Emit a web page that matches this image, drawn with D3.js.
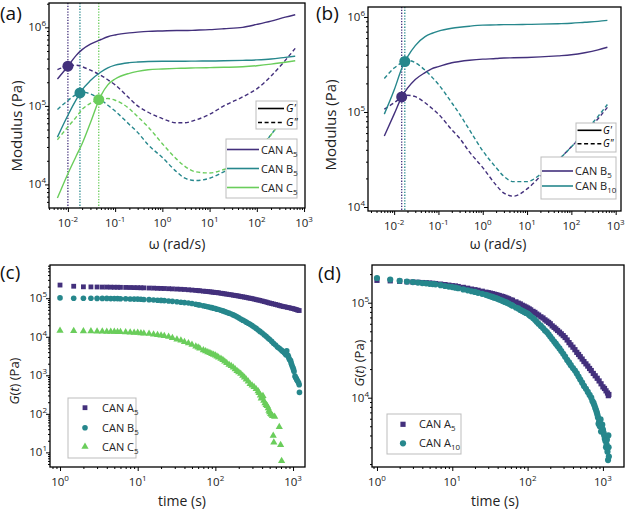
<!DOCTYPE html>
<html><head><meta charset="utf-8">
<script src="https://cdn.jsdelivr.net/npm/d3@7"></script>
<style>body{margin:0;background:#fff} svg{font-family:'Open Sans',sans-serif}</style>
</head><body><svg id="c" width="628" height="515"></svg>
<script>
// ---------- DATA ----------
const omega = [0.006,0.01,0.015,0.02,0.03,0.05,0.07,0.1,0.2,0.3,0.5,1,2,3,5,10,20,50,100,200,400,650];
// panel (a)
const aA5_G1 = [2.2e5,3.2e5,4.4e5,5.2e5,6.1e5,7.0e5,7.6e5,8.0e5,8.5e5,8.7e5,8.9e5,9.0e5,9.1e5,9.1e5,9.2e5,9.35e5,9.6e5,1.0e6,1.09e6,1.2e6,1.35e6,1.45e6];
const aA5_G2 = [2.9e5,3.2e5,3.3e5,3.15e5,2.85e5,2.45e5,2.15e5,1.85e5,1.25e5,1.0e5,8.3e4,6.9e4,6.1e4,6.1e4,6.6e4,7.8e4,1.0e5,1.3e5,1.65e5,2.4e5,3.8e5,5.4e5];
const aB5_G1 = [4.0e4,7.6e4,1.2e5,1.6e5,2.1e5,2.7e5,3.05e5,3.3e5,3.55e5,3.62e5,3.68e5,3.7e5,3.7e5,3.7e5,3.72e5,3.73e5,3.75e5,3.8e5,3.85e5,3.95e5,4.15e5,4.3e5];
const aB5_G2 = [9.0e4,1.17e5,1.4e5,1.5e5,1.42e5,1.2e5,1.02e5,8.6e4,5.8e4,4.6e4,3.2e4,2.2e4,1.45e4,1.2e4,1.12e4,1.2e4,1.45e4,1.95e4,2.6e4,4.3e4,7.5e4,1.1e5];
const aC5_G1 = [6.7e3,1.37e4,2.3e4,3.3e4,6.1e4,1.35e5,1.85e5,2.2e5,2.6e5,2.75e5,2.88e5,2.95e5,3.0e5,3.02e5,3.05e5,3.07e5,3.1e5,3.15e5,3.25e5,3.4e5,3.6e5,3.75e5];
const aC5_G2 = [3.7e4,5.4e4,7.2e4,9.0e4,1.08e5,1.22e5,1.24e5,1.18e5,9.2e4,7.3e4,5.4e4,3.3e4,2.1e4,1.7e4,1.45e4,1.4e4,1.55e4,2.0e4,2.7e4,4.3e4,7.5e4,1.1e5];
const aCross = [[0.01,3.2e5],[0.018,1.46e5],[0.045,1.2e5]];
// panel (b)
const bB5_G1 = [5.6e4,9.5e4,1.45e5,1.78e5,2.2e5,2.6e5,2.85e5,3.0e5,3.3e5,3.4e5,3.5e5,3.6e5,3.65e5,3.7e5,3.72e5,3.75e5,3.8e5,3.9e5,4.0e5,4.2e5,4.5e5,4.8e5];
const bB5_G2 = [1.07e5,1.25e5,1.43e5,1.5e5,1.45e5,1.25e5,1.1e5,9.5e4,6.5e4,5.3e4,3.8e4,2.6e4,1.7e4,1.4e4,1.3e4,1.55e4,2.1e4,3.1e4,4.3e4,6.0e4,8.5e4,1.12e5];
const bB10_G1 = [9.5e4,1.7e5,2.9e5,3.8e5,5.0e5,6.2e5,6.7e5,7.1e5,7.6e5,7.8e5,8.0e5,8.2e5,8.25e5,8.3e5,8.3e5,8.35e5,8.4e5,8.5e5,8.6e5,8.8e5,9.0e5,9.2e5];
const bB10_G2 = [2.25e5,2.9e5,3.3e5,3.5e5,3.3e5,2.75e5,2.35e5,1.95e5,1.25e5,9.5e4,6.5e4,3.9e4,2.6e4,2.1e4,1.85e4,1.85e4,2.2e4,3.1e4,4.3e4,6.2e4,9.0e4,1.2e5];
const bCross = [[0.0148,1.44e5],[0.0174,3.4e5]];
// panel (c): [time s, G(t) Pa]
const cA5 = [[1,2.2e5],[1.5,2.05e5],[2,1.98e5],[2.5,1.97e5],[3,1.96e5],[3.5,1.95e5],[4,1.95e5],[4.5,1.94e5],[5,1.93e5],[5.5,1.93e5],[6,1.92e5],[7,1.91e5],[8,1.9e5],[9,1.89e5],[10,1.88e5],[11,1.87e5],[12,1.86e5],[14,1.84e5],[16,1.83e5],[18,1.81e5],[20,1.8e5],[22,1.79e5],[25,1.77e5],[28,1.75e5],[32,1.73e5],[36,1.71e5],[40,1.69e5],[45,1.66e5],[50,1.63e5],[56,1.6e5],[60,1.58e5],[63,1.56e5],[70,1.53e5],[75,1.51e5],[80,1.49e5],[85,1.47e5],[90,1.45e5],[95,1.43e5],[100,1.41e5],[105,1.4e5],[110,1.38e5],[118,1.35e5],[125,1.33e5],[132,1.3e5],[140,1.28e5],[150,1.25e5],[160,1.23e5],[170,1.2e5],[180,1.18e5],[190,1.16e5],[200,1.14e5],[212,1.11e5],[225,1.09e5],[237,1.07e5],[250,1.05e5],[265,1.02e5],[280,1.0e5],[297,9.8e4],[315,9.5e4],[335,9.2e4],[355,9.0e4],[375,8.8e4],[400,8.5e4],[425,8.2e4],[450,8.0e4],[475,7.7e4],[500,7.5e4],[530,7.3e4],[560,7.1e4],[595,6.9e4],[630,6.7e4],[665,6.5e4],[700,6.3e4],[745,6.1e4],[790,6.0e4],[840,5.8e4],[890,5.7e4],[945,5.5e4],[1000,5.4e4],[1050,5.2e4],[1100,5.1e4],[1150,4.9e4],[1200,4.8e4]];
const cB5 = [[1,1.02e5],[1.5,1.0e5],[2,1.0e5],[2.5,1.0e5],[3,9.9e4],[3.5,9.9e4],[4,9.9e4],[4.5,9.8e4],[5,9.8e4],[5.5,9.8e4],[6,9.7e4],[7,9.7e4],[8,9.6e4],[9,9.5e4],[10,9.5e4],[11,9.4e4],[12,9.3e4],[14,9.2e4],[16,9.0e4],[18,8.9e4],[20,8.8e4],[22,8.7e4],[25,8.5e4],[28,8.3e4],[32,8.1e4],[36,7.9e4],[40,7.7e4],[45,7.5e4],[50,7.3e4],[56,7.0e4],[60,6.8e4],[63,6.7e4],[70,6.4e4],[75,6.2e4],[80,6.0e4],[85,5.8e4],[90,5.7e4],[95,5.5e4],[100,5.4e4],[105,5.2e4],[110,5.1e4],[118,4.9e4],[125,4.7e4],[132,4.5e4],[140,4.3e4],[150,4.1e4],[160,3.9e4],[170,3.7e4],[180,3.5e4],[190,3.3e4],[200,3.1e4],[212,2.9e4],[225,2.7e4],[237,2.55e4],[250,2.4e4],[265,2.25e4],[280,2.1e4],[297,1.95e4],[315,1.8e4],[335,1.65e4],[355,1.5e4],[375,1.38e4],[400,1.25e4],[425,1.13e4],[450,1.03e4],[475,9.3e3],[500,8.5e3],[530,7.6e3],[560,6.8e3],[595,6.1e3],[630,5.4e3],[665,5.0e3],[700,4.6e3],[725,4.3e3],[750,4.1e3],[770,3.9e3],[790,3.7e3],[810,3.4e3],[830,4.3e3],[860,3.3e3],[875,3.0e3],[890,2.7e3],[910,2.5e3],[930,2.4e3],[945,2.1e3],[960,1.9e3],[980,1.7e3],[1000,1.55e3],[1015,1.4e3],[1030,1.25e3],[1060,9.5e2],[1080,8.8e2],[1100,8.2e2],[1120,7.6e2],[1150,7.0e2],[1180,6.4e2],[1200,5.7e2],[1210,3.6e2]];
const cC5 = [[1,1.45e4],[1.5,1.42e4],[2,1.4e4],[2.5,1.4e4],[3,1.38e4],[3.5,1.37e4],[4,1.36e4],[4.5,1.35e4],[5,1.35e4],[5.5,1.34e4],[6,1.33e4],[7,1.32e4],[8,1.3e4],[9,1.28e4],[10,1.27e4],[11,1.25e4],[12,1.23e4],[14,1.2e4],[16,1.16e4],[18,1.12e4],[20,1.09e4],[22,1.05e4],[25,1.0e4],[28,9.4e3],[32,8.6e3],[36,8.0e3],[40,7.4e3],[45,6.8e3],[50,6.2e3],[56,5.6e3],[60,5.3e3],[63,5.0e3],[70,4.5e3],[75,4.25e3],[80,4.0e3],[85,3.8e3],[90,3.6e3],[95,3.45e3],[100,3.3e3],[105,3.1e3],[110,2.9e3],[118,2.7e3],[125,2.5e3],[132,2.3e3],[140,2.1e3],[150,1.9e3],[160,1.75e3],[170,1.6e3],[180,1.45e3],[190,1.3e3],[200,1.2e3],[212,1.1e3],[225,9.8e2],[237,8.8e2],[250,7.8e2],[265,6.9e2],[280,6.0e2],[297,5.5e2],[315,5.0e2],[335,4.4e2],[355,3.9e2],[365,3.5e2],[380,3.0e2],[390,2.5e2],[400,2.8e2],[410,2.9e2],[420,2.2e2],[435,1.9e2],[450,1.7e2],[465,1.6e2],[480,1.4e2],[490,1.2e2],[500,1.1e2],[515,1.0e2],[530,9.5e1],[545,8.8e1],[556,2.7e1],[566,1.8e1],[580,8.5e1],[665,4.6e1],[692,1.55e1],[713,6]];
// panel (d)
const dA5 = [[1,1.72e5],[1.5,1.7e5],[2,1.68e5],[2.5,1.66e5],[3,1.65e5],[3.5,1.64e5],[4,1.63e5],[4.5,1.62e5],[5,1.61e5],[5.5,1.6e5],[6,1.59e5],[7,1.57e5],[8,1.55e5],[9,1.53e5],[10,1.51e5],[11,1.5e5],[12,1.48e5],[14,1.45e5],[16,1.42e5],[18,1.39e5],[20,1.37e5],[22,1.35e5],[25,1.32e5],[28,1.29e5],[30,1.275e5],[32,1.26e5],[34,1.245e5],[36,1.23e5],[38,1.215e5],[40,1.2e5],[42,1.19e5],[45,1.17e5],[47,1.16e5],[50,1.14e5],[53,1.12e5],[56,1.1e5],[60,1.07e5],[63,1.06e5],[70,1.02e5],[75,9.9e4],[80,9.7e4],[85,9.4e4],[90,9.2e4],[95,9.0e4],[100,8.8e4],[105,8.6e4],[110,8.4e4],[118,8.1e4],[125,7.9e4],[132,7.6e4],[140,7.4e4],[150,7.1e4],[160,6.9e4],[170,6.6e4],[180,6.4e4],[190,6.2e4],[200,6.0e4],[212,5.7e4],[225,5.5e4],[237,5.3e4],[250,5.1e4],[265,4.9e4],[280,4.7e4],[297,4.5e4],[315,4.3e4],[335,4.05e4],[355,3.8e4],[375,3.6e4],[400,3.4e4],[425,3.2e4],[450,3.0e4],[475,2.85e4],[500,2.7e4],[530,2.55e4],[560,2.4e4],[595,2.27e4],[630,2.15e4],[665,2.03e4],[700,1.93e4],[745,1.8e4],[790,1.7e4],[840,1.6e4],[890,1.5e4],[945,1.4e4],[1000,1.3e4],[1050,1.25e4],[1100,1.18e4],[1150,1.12e4],[1180,1.05e4],[1200,1.08e4]];
const dA10 = [[1,1.82e5],[1.5,1.75e5],[2,1.7e5],[2.5,1.67e5],[3,1.65e5],[3.5,1.63e5],[4,1.61e5],[4.5,1.6e5],[5,1.58e5],[5.5,1.57e5],[6,1.56e5],[7,1.53e5],[8,1.5e5],[9,1.48e5],[10,1.46e5],[11,1.44e5],[12,1.42e5],[14,1.38e5],[16,1.35e5],[18,1.32e5],[20,1.3e5],[22,1.27e5],[25,1.24e5],[28,1.21e5],[30,1.19e5],[32,1.17e5],[34,1.15e5],[36,1.13e5],[38,1.12e5],[40,1.1e5],[42,1.08e5],[45,1.06e5],[47,1.04e5],[50,1.02e5],[53,1.0e5],[56,9.8e4],[60,9.5e4],[63,9.3e4],[70,8.9e4],[75,8.7e4],[80,8.4e4],[85,8.2e4],[90,8.0e4],[95,7.8e4],[100,7.7e4],[105,7.4e4],[110,7.2e4],[118,6.9e4],[125,6.6e4],[132,6.3e4],[140,6.0e4],[150,5.7e4],[160,5.4e4],[170,5.1e4],[180,4.9e4],[190,4.65e4],[200,4.4e4],[212,4.15e4],[225,3.9e4],[237,3.7e4],[250,3.5e4],[265,3.3e4],[280,3.1e4],[297,2.9e4],[315,2.7e4],[335,2.5e4],[355,2.35e4],[375,2.2e4],[400,2.05e4],[425,1.93e4],[450,1.8e4],[475,1.67e4],[500,1.55e4],[530,1.44e4],[560,1.33e4],[595,1.24e4],[630,1.15e4],[665,1.07e4],[700,1.0e4],[725,9.2e3],[750,8.8e3],[770,8.3e3],[790,7.8e3],[810,7.4e3],[830,7.0e3],[845,6.6e3],[860,6.2e3],[875,5.3e3],[890,5.6e3],[910,5.0e3],[930,5.9e3],[945,4.4e3],[960,5.0e3],[980,5.2e3],[1000,4.6e3],[1020,4.3e3],[1040,4.0e3],[1060,3.7e3],[1080,3.5e3],[1100,3.0e3],[1120,3.2e3],[1130,3.6e3],[1150,2.7e3],[1170,2.2e3],[1180,4.0e3],[1190,3.0e3],[1200,2.4e3]];
// ticks (decade exponents)
const aXTicks = [-2,-1,0,1,2,3], aYTicks = [4,5,6];
const bXTicks = [-2,-1,0,1,2,3], bYTicks = [4,5,6];
const cXTicks = [0,1,2,3], cYTicks = [1,2,3,4,5];
const dXTicks = [0,1,2,3], dYTicks = [4,5];

// ---------- DRAWING ----------
const COL = {p:'#43307c', t:'#26878c', g:'#6acd5b'};
const svg = d3.select('#c');

function panel(o){
  const x = d3.scaleLog().domain([10**o.xd[0],10**o.xd[1]]).range([o.l,o.r]);
  const y = d3.scaleLog().domain([10**o.yd[0],10**o.yd[1]]).range([o.b,o.t]);
  const g = svg.append('g');
  const cid = 'clip'+Math.round(o.l)+'_'+Math.round(o.t);
  svg.append('clipPath').attr('id',cid).append('rect').attr('x',o.l).attr('y',o.t).attr('width',o.r-o.l).attr('height',o.b-o.t);
  const data = g.append('g').attr('clip-path',`url(#${cid})`);
  return {x,y,g,data,o};
}
function minors(sc){
  const [a,b]=sc.domain(); const r=[];
  for(let e=Math.floor(Math.log10(a)); e<=Math.ceil(Math.log10(b)); e++)
    for(let k=2;k<=9;k++){const v=k*10**e; if(v>=a&&v<=b) r.push(v);}
  return r;
}
function supLabel(sel, e){
  sel.append('tspan').text('10');
  sel.append('tspan').attr('dy',-5).attr('font-size',8).text(e);
}
function axes(P, xt, yt){
  const {x,y,g,o}=P;
  const top = g.append('g');
  top.append('g').attr('transform',`translate(0,${o.b})`).call(d3.axisBottom(x).tickValues(minors(x)).tickSize(2).tickFormat(''));
  top.append('g').attr('transform',`translate(0,${o.b})`).call(d3.axisBottom(x).tickValues(xt.map(e=>10**e)).tickSize(4).tickFormat(''));
  top.append('g').attr('transform',`translate(${o.l},0)`).call(d3.axisLeft(y).tickValues(minors(y)).tickSize(2).tickFormat(''));
  top.append('g').attr('transform',`translate(${o.l},0)`).call(d3.axisLeft(y).tickValues(yt.map(e=>10**e)).tickSize(4).tickFormat(''));
  top.selectAll('.domain').remove();
  top.selectAll('line').attr('stroke','#000').attr('stroke-width',1);
  xt.forEach(e=>{
    const t=g.append('text').attr('x',x(10**e)).attr('y',o.b+19).attr('text-anchor','middle').attr('font-size',11.5).attr('fill','#222');
    supLabel(t,e);
  });
  yt.forEach(e=>{
    const t=g.append('text').attr('x',o.l-3).attr('y',y(10**e)+4).attr('text-anchor','end').attr('font-size',11.5).attr('fill','#222');
    supLabel(t,e);
  });
  g.append('rect').attr('x',o.l).attr('y',o.t).attr('width',o.r-o.l).attr('height',o.b-o.t)
    .attr('fill','none').attr('stroke','#000').attr('stroke-width',1.3);
}
function title(x,y,txt,rot,fs){
  const t=svg.append('text').attr('font-size',fs||14).attr('fill','#222').attr('text-anchor','middle')
    .attr('transform',`translate(${x},${y})`+(rot?' rotate(-90)':''));
  if(typeof txt==='function') txt(t); else t.text(txt);
  return t;
}
function gtLabel(t){
  t.append('tspan').attr('font-style','italic').text('G');
  t.append('tspan').text('(');
  t.append('tspan').attr('font-style','italic').text('t');
  t.append('tspan').text(') (Pa)');
}
function canLabel(t, letter, sub){
  t.append('tspan').text('CAN '+letter);
  t.append('tspan').attr('dy',3).attr('font-size','72%').text(sub);
}
function curve(P, ys, color, dashed){
  const line=d3.line().x(d=>P.x(d[0])).y(d=>P.y(d[1])).curve(d3.curveMonotoneX);
  P.data.append('path').datum(omega.map((w,i)=>[w,ys[i]])).attr('d',line)
    .attr('fill','none').attr('stroke',color).attr('stroke-width',1.4)
    .attr('stroke-dasharray',dashed?'4,2.6':null);
}
function vline(P, w, color){
  P.data.append('line').attr('x1',P.x(w)).attr('x2',P.x(w)).attr('y1',P.o.t).attr('y2',P.o.b)
    .attr('stroke',color).attr('stroke-width',1.3).attr('stroke-dasharray','1.3,1.5');
}
function dot(P, d, color){
  P.data.append('circle').attr('cx',P.x(d[0])).attr('cy',P.y(d[1])).attr('r',5.5).attr('fill',color);
}
function legBox(x,y,w,h){
  svg.append('rect').attr('x',x).attr('y',y).attr('width',w).attr('height',h).attr('fill','#fff').attr('stroke','#bdbdbd').attr('stroke-width',1);
}
function gLegend(x0,y0,w,h,l1,l2,ya,yb,tx,fs){
  legBox(x0,y0,w,h);
  svg.append('line').attr('x1',l1).attr('x2',l2).attr('y1',ya).attr('y2',ya).attr('stroke','#000').attr('stroke-width',1.6);
  svg.append('line').attr('x1',l1).attr('x2',l2).attr('y1',yb).attr('y2',yb).attr('stroke','#000').attr('stroke-width',1.6).attr('stroke-dasharray','4,2.6');
  svg.append('text').attr('x',tx).attr('y',ya+3.5).attr('font-size',fs).attr('font-style','italic').text("G'");
  svg.append('text').attr('x',tx).attr('y',yb+3.5).attr('font-size',fs).attr('font-style','italic').text('G"');
}
function lineLegend(items,l1,l2,tx){
  items.forEach(([yy,color,letter,sub])=>{
    svg.append('line').attr('x1',l1).attr('x2',l2).attr('y1',yy).attr('y2',yy).attr('stroke',color).attr('stroke-width',1.6);
    canLabel(svg.append('text').attr('x',tx).attr('y',yy+4).attr('font-size',11).attr('fill','#222'),letter,sub);
  });
}
function marker(sel, shape, cx, cy, color, s){
  if(shape==='sq') sel.append('rect').attr('x',cx-s/2).attr('y',cy-s/2).attr('width',s).attr('height',s).attr('fill',color);
  else if(shape==='ci') sel.append('circle').attr('cx',cx).attr('cy',cy).attr('r',s/2).attr('fill',color);
  else sel.append('path').attr('d',d3.symbol(d3.symbolTriangle, s*s*0.55)()).attr('transform',`translate(${cx},${cy})`).attr('fill',color);
}
function scatter(P, data, shape, color, s){
  data.forEach(d=>marker(P.data, shape, P.x(d[0]), P.y(d[1]), color, s));
}

// ----- Panel (a)
const A = panel({l:49,r:305,t:3,b:208,xd:[-2.40,3.02],yd:[3.70,6.31]});
[[0,COL.p],[1,COL.t],[2,COL.g]].forEach(([i,c])=>vline(A,aCross[i][0],c));
curve(A,aA5_G1,COL.p,false); curve(A,aA5_G2,COL.p,true);
curve(A,aB5_G1,COL.t,false); curve(A,aB5_G2,COL.t,true);
curve(A,aC5_G1,COL.g,false); curve(A,aC5_G2,COL.g,true);
dot(A,aCross[0],COL.p); dot(A,aCross[1],COL.t); dot(A,aCross[2],COL.g);
axes(A,aXTicks,aYTicks);
gLegend(256,101,41,28,258,284,108.5,122.5,286,11);
legBox(226,139,71,59);
lineLegend([[149.5,COL.p,'A','5'],[168.5,COL.t,'B','5'],[187.5,COL.g,'C','5']],227,259,261);

// ----- Panel (b)
const B = panel({l:368,r:621,t:7,b:211,xd:[-2.59,3.12],yd:[3.958,6.105]});
vline(B,bCross[0][0],COL.p); vline(B,bCross[1][0],COL.t);
curve(B,bB5_G1,COL.p,false); curve(B,bB5_G2,COL.p,true);
curve(B,bB10_G1,COL.t,false); curve(B,bB10_G2,COL.t,true);
dot(B,bCross[0],COL.p); dot(B,bCross[1],COL.t);
axes(B,bXTicks,bYTicks);
gLegend(576,123,40,29,577.5,601.5,130.3,143.8,603,10);
legBox(541,157,75,42);
lineLegend([[171,COL.p,'B','5'],[186,COL.t,'B','10']],542,573,575);

// ----- Panel (c)
const Cc = panel({l:50,r:305,t:265,b:467,xd:[-0.129,3.154],yd:[0.62,5.863]});
scatter(Cc,cA5,'sq',COL.p,4.8);
scatter(Cc,cB5,'ci',COL.t,5.6);
scatter(Cc,cC5,'tr',COL.g,6.4);
axes(Cc,cXTicks,cYTicks);
legBox(68,398,68,60);
[[407.7,'sq',COL.p,'A','5',4.8],[427.7,'ci',COL.t,'B','5',5.6],[446.7,'tr',COL.g,'C','5',6.4]].forEach(([yy,sh,c,L,s,sz])=>{
  marker(svg,sh,85,yy,c,sz);
  canLabel(svg.append('text').attr('x',102).attr('y',yy+4).attr('font-size',11).attr('fill','#222'),L,s);
});

// ----- Panel (d)
const D = panel({l:372,r:624,t:265,b:467,xd:[-0.066,3.28],yd:[3.27,5.397]});
scatter(D,dA5,'sq',COL.p,5.2);
scatter(D,dA10,'ci',COL.t,6.2);
axes(D,dXTicks,dYTicks);
legBox(387,414,74,40);
[[424.3,'sq',COL.p,'A','5',5.2],[443.3,'ci',COL.t,'A','10',6.2]].forEach(([yy,sh,c,L,s,sz])=>{
  marker(svg,sh,403,yy,c,sz);
  canLabel(svg.append('text').attr('x',419).attr('y',yy+4).attr('font-size',11).attr('fill','#222'),L,s);
});

// ----- titles
title(22,126,'Modulus (Pa)',true,15);
title(336,125,'Modulus (Pa)',true,15);
title(19,381,gtLabel,true,13);
title(364,363,gtLabel,true,13);
title(177,249,'ω (rad/s)',false,14);
title(498,249,'ω (rad/s)',false,14);
title(182,506,'time (s)',false,14);
title(495,506,'time (s)',false,14);
// panel letters
[[0,20,'(a)'],[316,20,'(b)'],[0,279,'(c)'],[318,280,'(d)']].forEach(([x,y,t])=>
  svg.append('text').attr('x',x).attr('y',y).attr('font-size',19).attr('fill','#111').text(t));
</script>
</body></html>
